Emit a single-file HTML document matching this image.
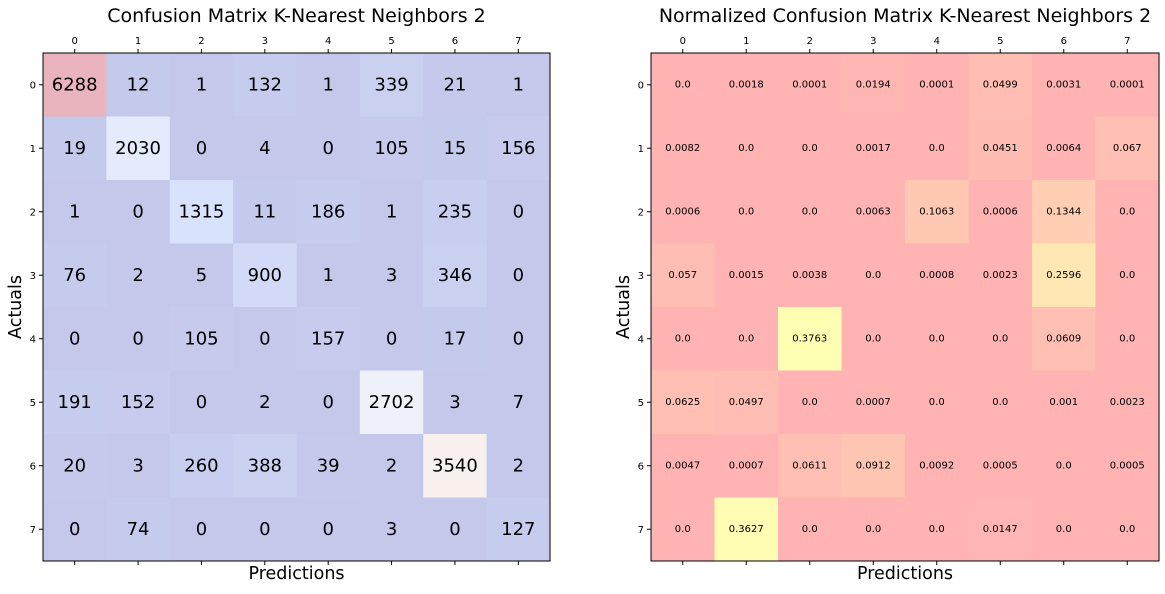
<!DOCTYPE html>
<html><head><meta charset="utf-8"><style>
body{margin:0;background:#fff;width:1165px;height:590px;overflow:hidden;font-family:"DejaVu Sans","Liberation Sans",sans-serif}
</style></head><body>
<svg id="c" width="1165" height="590" xmlns="http://www.w3.org/2000/svg" font-family="DejaVu Sans, Liberation Sans, sans-serif"></svg>
<script>
const classes=[0,1,2,3,4,5,6,7];
const counts=[
[6288,12,1,132,1,339,21,1],
[19,2030,0,4,0,105,15,156],
[1,0,1315,11,186,1,235,0],
[76,2,5,900,1,3,346,0],
[0,0,105,0,157,0,17,0],
[191,152,0,2,0,2702,3,7],
[20,3,260,388,39,2,3540,2],
[0,74,0,0,0,3,0,127]];
const normalized=[
["0.0","0.0018","0.0001","0.0194","0.0001","0.0499","0.0031","0.0001"],
["0.0082","0.0","0.0","0.0017","0.0","0.0451","0.0064","0.067"],
["0.0006","0.0","0.0","0.0063","0.1063","0.0006","0.1344","0.0"],
["0.057","0.0015","0.0038","0.0","0.0008","0.0023","0.2596","0.0"],
["0.0","0.0","0.3763","0.0","0.0","0.0","0.0609","0.0"],
["0.0625","0.0497","0.0","0.0007","0.0","0.0","0.001","0.0023"],
["0.0047","0.0007","0.0611","0.0912","0.0092","0.0005","0.0","0.0005"],
["0.0","0.3627","0.0","0.0","0.0","0.0147","0.0","0.0"]];
const titles=["Confusion Matrix K-Nearest Neighbors 2","Normalized Confusion Matrix K-Nearest Neighbors 2"];

const NS="http://www.w3.org/2000/svg",svg=document.getElementById('c');
function mk(t,a,p,txt){const e=document.createElementNS(NS,t);for(const k in a)e.setAttribute(k,a[k]);if(txt!==undefined)e.textContent=txt;(p||svg).appendChild(e);return e;}
const cw=[[0,59,76,192],[0.25,141,176,254],[0.5,221,221,221],[0.75,244,154,123],[1,180,4,38]];
function coolwarm(t){for(let i=1;i<cw.length;i++){if(t<=cw[i][0]){const a=cw[i-1],b=cw[i],f=(t-a[0])/(b[0]-a[0]);return [1,2,3].map(j=>a[j]+(b[j]-a[j])*f);}}return cw[4].slice(1);}
function autumn(t){return [255,255*t,0];}
function blend(c,al){return 'rgb('+c.map(v=>Math.round(255*(1-al)+v*al)).join(',')+')';}

function panel(x0,x1,y0,y1,vals,cmap,fs,title,name){
  const g=mk('g',{});
  
  
  const n=classes.length,cwd=(x1-x0)/n,ch=(y1-y0)/n;
  const nums=vals.map(r=>r.map(Number));
  const mx=Math.max(...nums.flat()),mn=Math.min(...nums.flat());
  const xs=i=>x0+i*cwd, ys=i=>y0+i*ch;
  nums.forEach((r,i)=>r.forEach((v,j)=>{
    const rc=mk('rect',{x:xs(j),y:ys(i),width:cwd+0.5,height:ch+0.5,fill:blend(cmap((v-mn)/(mx-mn)),0.3)},g);
    
    
    const t=mk('text',{x:xs(j)+cwd/2,y:ys(i)+ch/2,'font-size':fs,'text-anchor':'middle','dominant-baseline':'central',fill:'#000'},g,vals[i][j]);
    
    
  }));
  mk('rect',{x:x0,y:y0,width:x1-x0,height:y1-y0,fill:'none',stroke:'#000','stroke-width':1},g);
  classes.forEach((c,k)=>{
    const cx=xs(k)+cwd/2,cy=ys(k)+ch/2;
    mk('line',{x1:cx,x2:cx,y1:y0,y2:y0-4,stroke:'#000'},g);
    mk('line',{x1:cx,x2:cx,y1:y1,y2:y1+4,stroke:'#000'},g);
    mk('line',{x1:x0,x2:x0-4,y1:cy,y2:cy,stroke:'#000'},g);
    const tx=mk('text',{x:cx,y:y0-9,'font-size':10,'text-anchor':'middle'},g,c);
    
    
    const ty=mk('text',{x:x0-7,y:cy+3.5,'font-size':10,'text-anchor':'end'},g,c);
    
    
  });
  const tt=mk('text',{x:(x0+x1)/2,y:22,'font-size':19,'text-anchor':'middle'},g,title);
  
  
  const xl=mk('text',{x:(x0+x1)/2,y:579,'font-size':17.5,'text-anchor':'middle'},g,'Predictions');
  
  
  const yl=mk('text',{x:0,y:0,'font-size':17.5,'text-anchor':'middle',transform:'translate('+(x0-22)+','+((y0+y1)/2)+') rotate(-90)'},g,'Actuals');
  
  
}
panel(43,550,53,561,counts.map(r=>r.map(String)),coolwarm,18,titles[0],'counts-matrix');
panel(651,1159,53,561,normalized,autumn,10,titles[1],'normalized-matrix');
</script>
</body></html>
